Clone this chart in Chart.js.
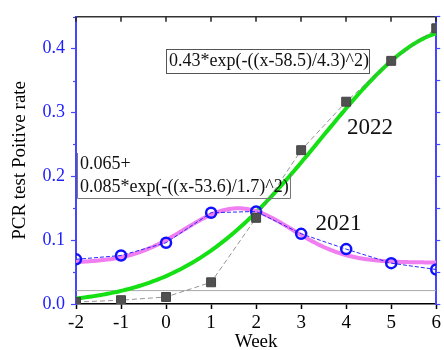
<!DOCTYPE html>
<html>
<head>
<meta charset="utf-8">
<script src="https://cdn.jsdelivr.net/npm/chart.js@4.4.1/dist/chart.umd.min.js"></script>
<style>
	html, body { margin: 0; padding: 0; background: #fff; }
</style>
</head>
<body>
<canvas id="pcr-chartcanvas" width="444" height="350"></canvas>
<script>
"use strict";

// weeks counted from the turn of the year (0 = week 52)
var weeks = [-2, -1, 0, 1, 2, 3, 4, 5, 6];
var rate2021 = [0.070, 0.076, 0.096, 0.143, 0.145, 0.110, 0.086, 0.064, 0.054];
var rate2022 = [0.003, 0.006, 0.011, 0.034, 0.135, 0.241, 0.317, 0.381, 0.432];
var yLabelTicks = [0, 0.1, 0.2, 0.3, 0.4];
var baseRate = 0.021;

// gaussian fits, written in calendar weeks
var weekShift = 52;
var fit2022 = { base: 0, amp: 0.43, center: 58.5, width: 4.3 };
var fit2021 = { base: 0.065, amp: 0.085, center: 53.6, width: 1.7 };

var serif = "'Liberation Serif', 'Times New Roman', serif";
var blue = "#2020ff";
var axisBlue = "#4646ff";

function gauss(fit, x) {
	var u = (x + weekShift - fit.center) / fit.width;
	return fit.base + fit.amp * Math.exp(-u * u);
}

// sample the fit formula along the week axis
function fitCurve(fit) {
	var pts = [];
	for (var i = 0; i <= 160; i++) {
		var x = weeks[0] + i * (weeks[weeks.length - 1] - weeks[0]) / 160;
		pts.push({ x: x, y: gauss(fit, x) });
	}
	return pts;
}

function toPoints(ys) {
	return weeks.map(function(w, i) { return { x: w, y: ys[i] }; });
}

function isLabelTick(v) {
	return yLabelTicks.some(function(t) { return Math.abs(t - v) < 1e-6; });
}

// text boxes and inward ticks
var extras = {
	id: "extras",
	afterDraw: function(chart) {
		var ctx = chart.ctx;
		var xs = chart.scales.x, ys = chart.scales.y;
		var area = chart.chartArea;
		ctx.save();

		// minor ticks on the left axis
		ctx.strokeStyle = axisBlue;
		ctx.lineWidth = 1.2;
		for (var v = 0.05; v < 0.45; v += 0.1) {
			var py = Math.round(ys.getPixelForValue(v)) + 0.5;
			ctx.beginPath();
			ctx.moveTo(area.left - 3, py);
			ctx.lineTo(area.left, py);
			ctx.stroke();
		}

		// top axis ticks pointing in
		ctx.strokeStyle = "#222";
		ctx.lineWidth = 1.5;
		weeks.forEach(function(w) {
			var px = Math.round(xs.getPixelForValue(w));
			ctx.beginPath();
			ctx.moveTo(px, area.top);
			ctx.lineTo(px, area.top + 5);
			ctx.stroke();
		});

		// fit formula boxes
		ctx.font = "18px " + serif;
		ctx.fillStyle = "#111";
		ctx.textBaseline = "alphabetic";
		ctx.textAlign = "left";

		var l1 = xs.getPixelForValue(0.0), r1 = xs.getPixelForValue(4.5);
		var t1 = ys.getPixelForValue(0.400), b1 = ys.getPixelForValue(0.363);
		ctx.fillStyle = "#fff";
		ctx.fillRect(l1, t1, r1 - l1, b1 - t1);
		ctx.strokeStyle = "#555";
		ctx.lineWidth = 1;
		ctx.strokeRect(Math.round(l1) + 0.5, Math.round(t1) + 0.5, Math.round(r1 - l1), Math.round(b1 - t1));
		ctx.fillStyle = "#111";
		ctx.fillText(fit2022.amp + "*exp(-((x-" + fit2022.center + ")/" + fit2022.width + ")^2)", l1 + 3, b1 - 6);

		var l2 = xs.getPixelForValue(-1.98), r2 = xs.getPixelForValue(2.75);
		var t2 = ys.getPixelForValue(0.236), b2 = ys.getPixelForValue(0.166);
		ctx.strokeStyle = "#777";
		ctx.beginPath();
		ctx.moveTo(Math.round(l2) + 0.5, Math.round(t2));
		ctx.lineTo(Math.round(l2) + 0.5, Math.round(b2) + 0.5);
		ctx.lineTo(Math.round(r2) + 0.5, Math.round(b2) + 0.5);
		ctx.lineTo(Math.round(r2) + 0.5, Math.round(b2) - 24);
		ctx.stroke();
		ctx.fillText(fit2021.base + "+", l2 + 3, b2 - 29);
		ctx.fillText(fit2021.amp + "*exp(-((x-" + fit2021.center + ")/" + fit2021.width + ")^2)", l2 + 3, b2 - 6);

		// series names
		ctx.font = "23px " + serif;
		ctx.fillText("2022", xs.getPixelForValue(4.02), ys.getPixelForValue(0.2656));
		ctx.fillText("2021", xs.getPixelForValue(3.32), ys.getPixelForValue(0.1158));

		ctx.restore();
	}
};

var pcrCtx = document.getElementById("pcr-chartcanvas");

var pcrData = {
	datasets : [
		{
			label : "2022",
			data : toPoints(rate2022),
			borderColor : "#7a7a7a",
			borderWidth : 0.8,
			borderDash : [5, 3],
			pointStyle : "rect",
			pointRadius : 6.3,
			pointBackgroundColor : "#505050",
			pointBorderColor : "#444",
			pointBorderWidth : 1,
			showLine : true,
			fill : false
		},
		{
			label : "2021",
			data : toPoints(rate2021),
			borderColor : "#2a2aff",
			borderWidth : 1,
			borderDash : [4, 2],
			pointStyle : "circle",
			pointRadius : 5,
			pointBackgroundColor : "rgba(255,255,255,0)",
			pointBorderColor : "#1010ff",
			pointBorderWidth : 2.5,
			showLine : true,
			fill : false
		},
		{
			label : "fit 2021",
			data : fitCurve(fit2021),
			borderColor : "#f07ef0",
			borderWidth : 4,
			pointRadius : 0,
			showLine : true,
			fill : false
		},
		{
			label : "fit 2022",
			data : fitCurve(fit2022),
			borderColor : "#14e014",
			borderWidth : 4,
			pointRadius : 0,
			showLine : true,
			fill : false
		},
		{
			label : "base",
			data : [{ x: weeks[0], y: baseRate }, { x: weeks[weeks.length - 1], y: baseRate }],
			borderColor : "#a8a8a8",
			borderWidth : 1,
			pointRadius : 0,
			showLine : true,
			fill : false
		}
	]
};

var pcrOptions = {
	responsive : false,
	animation : false,
	layout : { padding : { top : 12, right : 0, bottom : 0, left : 0 } },
	plugins : {
		legend : { display : false },
		tooltip : { enabled : false }
	},
	scales : {
		x : {
			type : "linear",
			position : "bottom",
			min : -2,
			max : 6,
			ticks : {
				stepSize : 1,
				color : "#000",
				padding : 3,
				font : { family : serif, size : 19 }
			},
			grid : { drawOnChartArea : false, tickLength : 5, tickColor : "#000", tickWidth : 1.5 },
			border : { color : "#000", width : 1.5 },
			title : {
				display : true,
				text : "Week",
				color : "#000",
				padding : { top : 0, bottom : -2 },
				font : { family : serif, size : 19, lineHeight : 1 }
			},
			afterFit : function(scale) { scale.height = 46; }
		},
		x2 : {
			type : "linear",
			position : "top",
			min : -2,
			max : 6,
			ticks : { display : false },
			grid : { drawOnChartArea : false, drawTicks : false },
			border : { color : "#333", width : 1.5 },
			afterFit : function(scale) { scale.height = 0; }
		},
		y : {
			position : "left",
			min : 0,
			max : 0.45,
			z : 1,
			ticks : {
				stepSize : 0.05,
				color : blue,
				padding : 6,
				font : { family : serif, size : 18 },
				callback : function(v) { return isLabelTick(v) ? v.toFixed(1) : ""; }
			},
			grid : {
				drawOnChartArea : false,
				tickLength : 5,
				tickWidth : 1.2,
				tickColor : function(c) { return isLabelTick(c.tick.value) ? axisBlue : "rgba(0,0,0,0)"; }
			},
			border : { color : axisBlue, width : 2 },
			title : {
				display : true,
				text : "PCR test Poitive rate",
				color : "#000",
				padding : { top : 11, bottom : 0 },
				font : { family : serif, size : 19, lineHeight : 1 }
			},
			afterFit : function(scale) { scale.width = 76; }
		},
		y2 : {
			position : "right",
			min : 0,
			max : 0.45,
			z : 1,
			ticks : { stepSize : 0.05, display : false },
			grid : { drawOnChartArea : false, tickLength : 4, tickWidth : 1.2, tickColor : axisBlue },
			border : { color : axisBlue, width : 2 },
			afterFit : function(scale) { scale.width = 4; }
		}
	}
};

var pcrChart = new Chart(pcrCtx, {
	type : "scatter",
	data : pcrData,
	options : pcrOptions,
	plugins : [extras]
});
</script>
</body>
</html>
